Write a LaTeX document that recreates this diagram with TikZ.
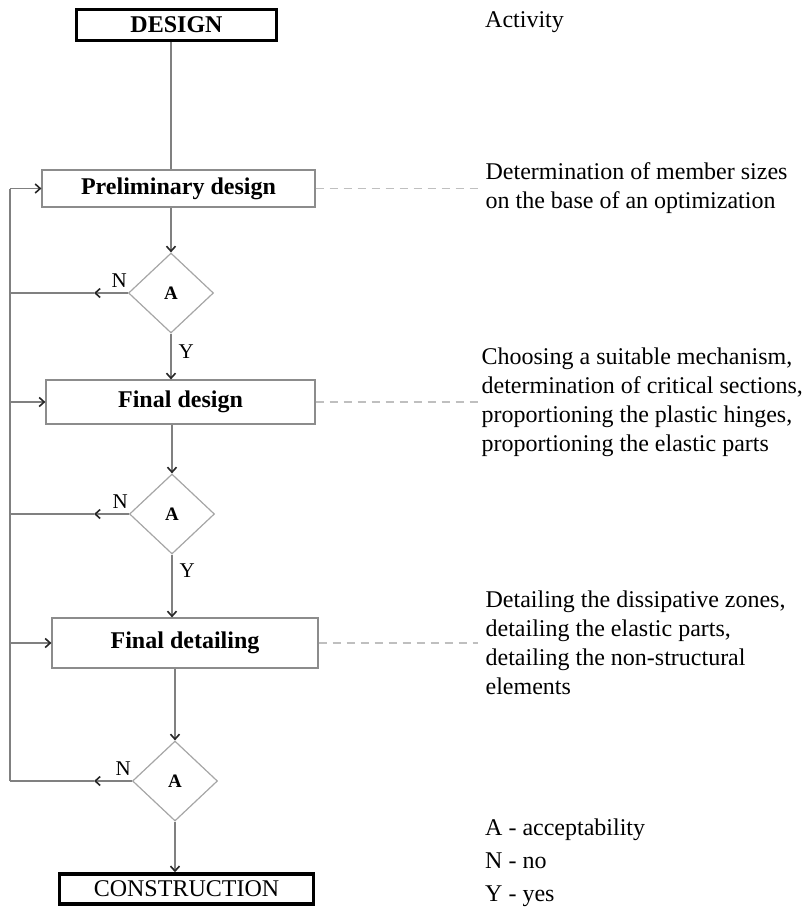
\documentclass[tikz,border=0pt]{standalone}
\usepackage{fontspec}
\setmainfont{Liberation Serif}
\usetikzlibrary{arrows.meta,positioning,shapes.geometric}

\begin{document}
\begin{tikzpicture}[x=1pt, y=1pt,
  stage/.style={draw=black!45, line width=1.2pt, inner sep=0pt,
    font=\fontsize{24}{29}\selectfont\bfseries},
  endbox/.style={draw, line width=3.5pt, inner sep=0pt,
    font=\fontsize{24}{29}\selectfont},
  check/.style={diamond, draw=black!35, line width=1.2pt, inner sep=0pt,
    minimum width=85pt, minimum height=80pt,
    font=\fontsize{19}{20}\selectfont\bfseries},
  link/.style={draw=black!50, line width=1.3pt},
  flow/.style={link, -{Straight Barb[length=5pt, width=9pt, line width=1.6pt, color=black!85]}},
  guide/.style={draw=black!25, line width=1.2pt, dash pattern=on 8pt off 6pt},
  note/.style={align=left, inner sep=0pt, font=\fontsize{24}{29}\selectfont},
  tag/.style={inner sep=0pt, font=\fontsize{21}{22}\selectfont}]
\useasboundingbox (0,0) rectangle (810,-908);

% main column
\node[endbox, font=\fontsize{24}{29}\selectfont\bfseries,
  minimum width=200pt, minimum height=31pt] (design) at (176.5,-25) {DESIGN};
\node[stage, minimum width=273pt, minimum height=37pt] (prelim) at (178.5,-188.5) {Preliminary design};
\node[stage, minimum width=269pt, minimum height=44pt] (final) at (180.5,-402) {Final design};
\node[stage, minimum width=266pt, minimum height=50pt] (detail) at (185,-643) {Final detailing};
\node[endbox, minimum width=254pt, minimum height=30pt] (constr) at (186.5,-889) {CONSTRUCTION};

\node[check] (acc1) at (171,-293) {A};
\node[check] (acc2) at (172,-514) {A};
\node[check] (acc3) at (175,-781) {A};

\draw[link] (design.south -| acc1) -- (prelim.north -| acc1);
\draw[flow] (prelim.south -| acc1) -- (acc1.north);
\draw[flow] (acc1.south) -- (final.north -| acc1)
  node[tag, pos=0.4, right=7pt] {Y};
\draw[flow] (final.south -| acc2) -- (acc2.north);
\draw[flow] (acc2.south) -- (detail.north -| acc2)
  node[tag, pos=0.25, right=7pt] {Y};
\draw[flow] (detail.south -| acc3) -- (acc3.north);
\draw[flow] (acc3.south) -- (constr.north -| acc3);

% return loop for N
\coordinate (rail) at (10,0);
\coordinate (stop) at (94,0);
\foreach \a in {acc1,acc2,acc3} {
  \draw[flow] (\a.west) -- (\a.west -| stop);
  \draw[link] (\a.west -| stop) -- (\a.west -| rail);
  \node[tag, above left=5pt and 1pt of \a.west] {N};
}
\draw[link] (acc3.west -| rail) -- (prelim.west -| rail);
\draw[flow] (prelim.west -| rail) -- (prelim.west);
\draw[flow] (final.west -| rail) -- (final.west);
\draw[flow] (detail.west -| rail) -- (detail.west);

% activities
\coordinate (gend) at (478,0);
\node[note, anchor=west] (activity) at (485,-22) {Activity};
\draw[guide] (prelim.east) -- (prelim.east -| gend)
  node[note, right=7pt] (act1) {Determination of member sizes\\on the base of an optimization};
\draw[guide] (final.east) -- (final.east -| gend)
  node[note, right=3pt] (act2) {Choosing a suitable mechanism,\\determination of critical sections,\\proportioning the plastic hinges,\\proportioning the elastic parts};
\draw[guide] (detail.east) -- (detail.east -| gend)
  node[note, right=7pt] (act3) {Detailing the dissipative zones,\\detailing the elastic parts,\\detailing the non-structural\\elements};

\node[note, anchor=north west, font=\fontsize{24}{33}\selectfont] (legend)
  at (485,-819) {A - acceptability\\N - no\\Y - yes};
\end{tikzpicture}
\end{document}
